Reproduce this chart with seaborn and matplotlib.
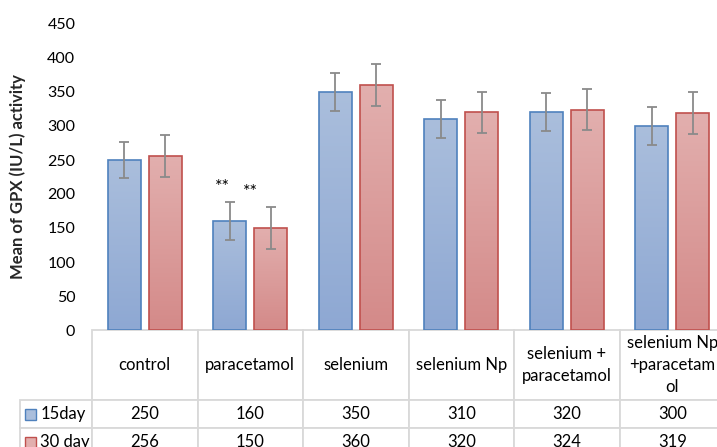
import numpy as np
import pandas as pd
import matplotlib
matplotlib.use("Agg")
import matplotlib.pyplot as plt
import seaborn as sns
from matplotlib.colors import LinearSegmentedColormap
from matplotlib.patches import Rectangle

# ----------------------------------------------------------------
# data
# ----------------------------------------------------------------
categories = ["control", "paracetamol", "selenium", "selenium Np",
              "selenium +\nparacetamol", "selenium Np\n+paracetam\nol"]
series = ["15day", "30 day"]
day15 = [250, 160, 350, 310, 320, 300]
day30 = [256, 150, 360, 320, 324, 319]
err15 = [27, 28, 28, 28, 28, 28]
err30 = [31, 31, 31, 30, 30, 31]
sig15 = ["", "**", "", "", "", ""]
sig30 = ["", "**", "", "", "", ""]
yticks = list(range(0, 451, 50))

df = pd.DataFrame({
    "group": categories * 2,
    "series": [series[0]] * len(categories) + [series[1]] * len(categories),
    "value": day15 + day30,
})

sns.set_theme(style="white")
plt.rcParams["font.family"] = ["Lato", "DejaVu Sans"]

W, H = 717, 447
fig = plt.figure(figsize=(W / 100, H / 100), dpi=100)
# axes spans past the right edge, like the cropped original
ax = fig.add_axes([92 / W, 117 / H, 633 / W, 306 / H])

sns.barplot(data=df, x="group", y="value", hue="series", order=categories,
            hue_order=series, width=0.78, gap=0.2, errorbar=None,
            legend=False, ax=ax)

edge_cols = ["#4f81bd", "#c0504d"]
grads = [("#aabedc", "#8ea8d3"), ("#e2afae", "#d48a89")]
errs = [err15, err30]
sigs = [sig15, sig30]
star_shift = [-0.07, -0.19]
grad = np.linspace(0, 1, 100).reshape(-1, 1)

bar_conts = list(ax.containers)
for k, cont in enumerate(bar_conts):
    cmap = LinearSegmentedColormap.from_list("g%d" % k, grads[k])
    xs, ys = [], []
    for bar in cont:
        x0, w, h = bar.get_x(), bar.get_width(), bar.get_height()
        im = ax.imshow(grad, extent=[x0, x0 + w, 0, h], aspect="auto",
                       cmap=cmap, origin="upper", zorder=1)
        im.set_clip_path(bar)
        bar.set_facecolor("none")
        bar.set_edgecolor(edge_cols[k])
        bar.set_linewidth(1.2)
        bar.set_zorder(2)
        xs.append(x0 + w / 2)
        ys.append(h)
    ax.errorbar(xs, ys, yerr=errs[k], fmt="none", ecolor="#8a8a8a",
                elinewidth=1.3, capsize=3.3, capthick=1.3, zorder=3)
    for x, y, e, s in zip(xs, ys, errs[k], sigs[k]):
        if s:
            ax.text(x + star_shift[k], y + e + 22, s, ha="center", va="center",
                    fontsize=13, color="black")

ax.set_xlim(-0.5, len(categories) - 0.5)
ax.set_ylim(0, 450)
ax.set_yticks(yticks)
ax.set_xticks([])
ax.set_xlabel("")
ax.set_ylabel("")
ax.tick_params(axis="y", length=0, pad=12, labelsize=11.5, labelcolor="black")
for sp in ax.spines.values():
    sp.set_visible(False)

fig.text(18 / W, 0.605, "Mean of GPX (IU/L) activity", rotation=90,
         ha="center", va="center", fontsize=12, fontweight="bold")

# ----------------------------------------------------------------
# data table under the chart (first column holds the series labels)
# ----------------------------------------------------------------
label_w, col_w = 72, 105.5
head_h, row_h = 70, 28
ax_w, ax_h = 633, 306
tab_h = head_h + row_h * len(series)

cell_text = [[series[0]] + [str(v) for v in day15],
             [series[1]] + [str(v) for v in day30]]
tab = ax.table(cellText=cell_text, colLabels=[""] + categories,
               cellLoc="center", colLoc="center",
               bbox=[-label_w / ax_w, -tab_h / ax_h,
                     (ax_w + label_w) / ax_w, tab_h / ax_h])
tab.auto_set_font_size(False)
tab.set_fontsize(12)
for (r, c), cell in tab.get_celld().items():
    cell.set_width(label_w if c == 0 else col_w)
    cell.set_height(head_h if r == 0 else row_h)
    cell.set_edgecolor("#d9d9d9")
    cell.set_linewidth(1.3)
    cell.get_text().set_color("black")
    if r == 0:
        cell.get_text().set_linespacing(1.45)
    if c == 0:
        cell.get_text().set_horizontalalignment("left")
        cell.PAD = 0.28
        if r == 0:
            cell.visible_edges = ""

for i in range(len(series)):
    yc = -(head_h + row_h * (i + 0.5)) / ax_h
    sq = 11
    ax.add_patch(Rectangle(((25 - 92) / ax_w, yc - sq / 2 / ax_h),
                           sq / ax_w, sq / ax_h, transform=ax.transAxes,
                           facecolor=grads[i][0], edgecolor=edge_cols[i],
                           linewidth=1.0, clip_on=False, zorder=5))

fig.savefig("out.png", dpi=100)
